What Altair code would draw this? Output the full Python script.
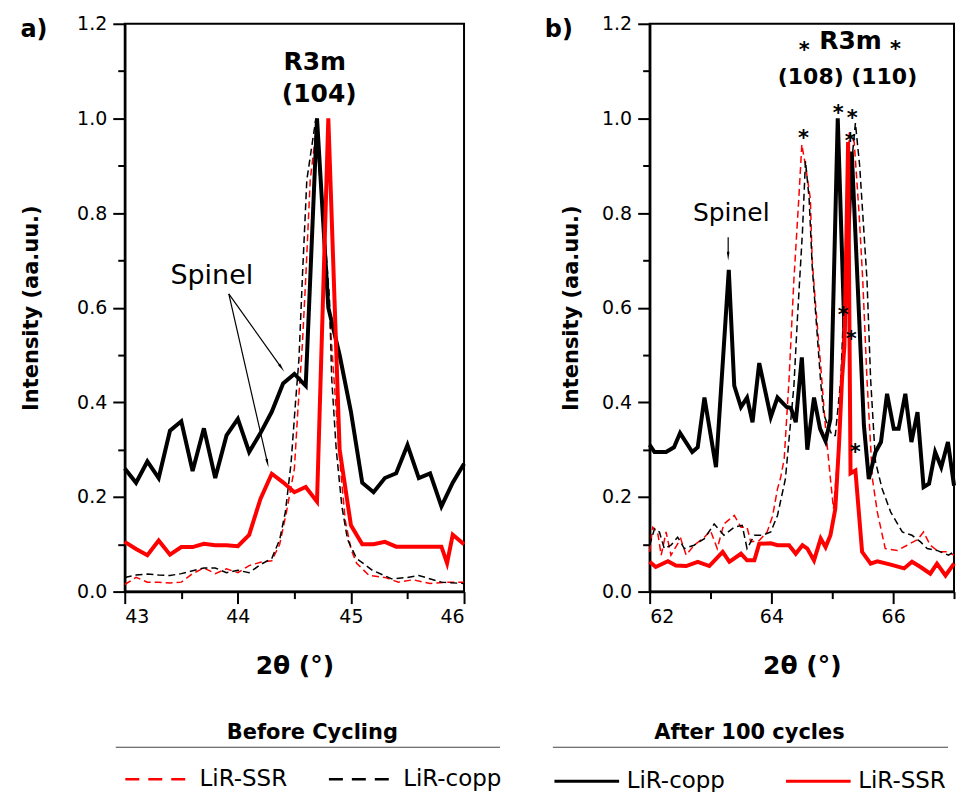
import altair as alt
import pandas as pd

FONT = "DejaVu Sans"
RED = "#ff0000"
BLACK = "#000000"

BEFORE_SERIES = ["LiR-SSR", "LiR-copp"]   # dashed: before cycling
AFTER_SERIES = ["LiR-copp", "LiR-SSR"]    # solid: after 100 cycles

# ---------------- panel a) : 2theta 43-46 ----------------
a_ssr_before_x = [43.0, 43.1, 43.2, 43.3, 43.4, 43.5, 43.6, 43.7, 43.8, 43.9,
                  44.0, 44.1, 44.2, 44.3, 44.37, 44.43, 44.5, 44.53, 44.57, 44.6,
                  44.64, 44.7, 44.73, 44.79, 44.85, 44.9, 44.95, 45.0, 45.05, 45.16,
                  45.3, 45.42, 45.55, 45.7, 45.85, 46.0]
a_ssr_before_y = [0.015, 0.03, 0.02, 0.02, 0.018, 0.02, 0.038, 0.05, 0.038, 0.048,
                  0.04, 0.055, 0.062, 0.065, 0.10, 0.168, 0.26, 0.38, 0.52, 0.66,
                  0.87, 0.99, 0.87, 0.66, 0.45, 0.28, 0.15, 0.09, 0.06, 0.034,
                  0.03, 0.02, 0.025, 0.017, 0.02, 0.02]

a_copp_before_x = [43.0, 43.1, 43.2, 43.3, 43.4, 43.5, 43.6, 43.7, 43.8, 43.9,
                   44.0, 44.1, 44.2, 44.3, 44.37, 44.42, 44.47, 44.51, 44.54, 44.57,
                   44.61, 44.69, 44.725, 44.77, 44.81, 44.83, 44.87, 44.92, 44.97, 45.05,
                   45.19, 45.36, 45.5, 45.6, 45.8, 46.0]
a_copp_before_y = [0.03, 0.035, 0.037, 0.035, 0.034, 0.038, 0.044, 0.05, 0.05, 0.04,
                   0.045, 0.04, 0.057, 0.07, 0.11, 0.168, 0.27, 0.40, 0.49, 0.66,
                   0.87, 1.0, 0.87, 0.75, 0.62, 0.45, 0.30, 0.18, 0.11, 0.07,
                   0.045, 0.027, 0.03, 0.034, 0.02, 0.017]

a_copp_after_x = [43.0, 43.1, 43.2, 43.3, 43.4, 43.5, 43.6, 43.7, 43.8, 43.9,
                  44.0, 44.1, 44.2, 44.3, 44.4, 44.5, 44.6, 44.7, 44.8, 44.9,
                  45.0, 45.1, 45.2, 45.3, 45.4, 45.5, 45.6, 45.7, 45.8, 45.9, 46.0]
a_copp_after_y = [0.26, 0.23, 0.275, 0.24, 0.34, 0.36, 0.255, 0.345, 0.24, 0.33,
                  0.365, 0.295, 0.335, 0.38, 0.44, 0.46, 0.435, 1.0, 0.60, 0.50,
                  0.38, 0.23, 0.21, 0.24, 0.25, 0.31, 0.24, 0.25, 0.18, 0.23, 0.27]

a_ssr_after_x = [43.0, 43.1, 43.2, 43.3, 43.4, 43.5, 43.6, 43.7, 43.8, 43.9,
                 44.0, 44.1, 44.2, 44.3, 44.4, 44.5, 44.6, 44.7, 44.8, 44.9,
                 45.0, 45.1, 45.2, 45.3, 45.4, 45.5, 45.6, 45.7, 45.8, 45.85, 45.9, 46.0]
a_ssr_after_y = [0.105, 0.09, 0.077, 0.108, 0.078, 0.094, 0.094, 0.101, 0.098, 0.098,
                 0.096, 0.12, 0.196, 0.249, 0.231, 0.21, 0.221, 0.19, 1.0, 0.30,
                 0.14, 0.10, 0.10, 0.105, 0.095, 0.095, 0.095, 0.095, 0.095, 0.06, 0.12, 0.10]

# ---------------- panel b) : 2theta 62-67 ----------------
b_ssr_before_x = [62.0, 62.05, 62.13, 62.19, 62.27, 62.35, 62.51, 62.6, 62.73, 62.9,
                  63.0, 63.11, 63.22, 63.39, 63.5, 63.6, 63.66, 63.8, 63.93, 64.02,
                  64.1, 64.15, 64.21, 64.29, 64.37, 64.45, 64.5, 64.56, 64.64, 64.67,
                  64.73, 64.81, 64.89, 64.97, 65.02, 65.1, 65.2, 65.28, 65.36, 65.44,
                  65.5, 65.57, 65.66, 65.74, 65.87, 66.07, 66.23, 66.4, 66.5, 66.61,
                  66.75, 66.89, 67.0]
b_ssr_before_y = [0.084, 0.136, 0.126, 0.077, 0.126, 0.077, 0.112, 0.077, 0.098, 0.115,
                  0.129, 0.091, 0.143, 0.161, 0.136, 0.136, 0.105, 0.108, 0.126, 0.16,
                  0.217, 0.24, 0.28, 0.449, 0.66, 0.83, 0.945, 0.90, 0.83, 0.70,
                  0.60, 0.477, 0.344, 0.238, 0.175, 0.30, 0.62, 0.97, 0.95, 0.80,
                  0.66, 0.449, 0.238, 0.168, 0.091, 0.087, 0.098, 0.11, 0.126, 0.098,
                  0.084, 0.084, 0.077]

b_copp_before_x = [62.0, 62.08, 62.16, 62.24, 62.35, 62.46, 62.57, 62.73, 62.9, 63.06,
                   63.22, 63.39, 63.52, 63.6, 63.72, 63.85, 63.99, 64.1, 64.23, 64.37,
                   64.43, 64.51, 64.56, 64.62, 64.67, 64.75, 64.81, 64.86, 64.93, 65.0,
                   65.05, 65.14, 65.22, 65.3, 65.38, 65.45, 65.5, 65.57, 65.63, 65.71,
                   65.82, 65.96, 66.15, 66.31, 66.45, 66.56, 66.72, 66.91, 67.0]
b_copp_before_y = [0.098, 0.133, 0.126, 0.091, 0.098, 0.115, 0.091, 0.098, 0.112, 0.143,
                   0.119, 0.136, 0.14, 0.091, 0.119, 0.119, 0.126, 0.161, 0.238, 0.435,
                   0.583, 0.76, 0.91, 0.83, 0.688, 0.548, 0.442, 0.375, 0.35, 0.33,
                   0.33, 0.449, 0.70, 0.88, 0.99, 0.90, 0.80, 0.66, 0.449, 0.274,
                   0.217, 0.168, 0.126, 0.119, 0.105, 0.091, 0.087, 0.077, 0.084]

b_copp_after_x = [62.0, 62.08, 62.27, 62.4, 62.5, 62.7, 62.79, 62.9, 63.09, 63.3,
                  63.39, 63.5, 63.6, 63.69, 63.8, 63.99, 64.1, 64.25, 64.32, 64.4,
                  64.5, 64.59, 64.7, 64.8, 64.89, 64.97, 65.09, 65.2, 65.32, 65.52,
                  65.6, 65.71, 65.8, 65.9, 66.01, 66.09, 66.2, 66.3, 66.4, 66.5,
                  66.59, 66.69, 66.79, 66.9, 67.0]
b_copp_after_y = [0.31, 0.295, 0.295, 0.305, 0.335, 0.295, 0.305, 0.41, 0.263, 0.68,
                  0.435, 0.39, 0.41, 0.358, 0.483, 0.369, 0.41, 0.39, 0.388, 0.358,
                  0.495, 0.30, 0.41, 0.344, 0.318, 0.365, 1.0, 0.55, 0.93, 0.351,
                  0.238, 0.295, 0.316, 0.418, 0.344, 0.344, 0.418, 0.316, 0.379, 0.221,
                  0.228, 0.295, 0.263, 0.316, 0.224]

b_ssr_after_x = [62.0, 62.1, 62.3, 62.43, 62.6, 62.79, 62.98, 63.2, 63.31, 63.5,
                 63.6, 63.72, 63.8, 63.99, 64.1, 64.29, 64.4, 64.51, 64.59, 64.7,
                 64.81, 64.89, 64.97, 65.05, 65.11, 65.16, 65.2, 65.26, 65.3, 65.38,
                 65.49, 65.63, 65.74, 65.96, 66.18, 66.31, 66.45, 66.61, 66.72, 66.86,
                 67.0]
b_ssr_after_y = [0.063, 0.052, 0.064, 0.055, 0.054, 0.063, 0.054, 0.084, 0.063, 0.08,
                 0.066, 0.066, 0.101, 0.102, 0.098, 0.098, 0.08, 0.098, 0.091, 0.066,
                 0.112, 0.094, 0.119, 0.175, 0.309, 0.449, 0.52, 0.95, 0.25, 0.256,
                 0.084, 0.059, 0.064, 0.057, 0.049, 0.063, 0.052, 0.038, 0.059, 0.034,
                 0.059]

# ---------------- annotations ----------------
a_note_text = ["R3m", "(104)"]
a_note_x = [44.68, 44.72]
a_note_y = [1.12, 1.051]
a_spinel_x, a_spinel_y = [43.77], [0.667]
a_arrow_x = [43.92, 43.92]
a_arrow_y = [0.629, 0.629]
a_arrow_x2 = [44.38, 44.26]
a_arrow_y2 = [0.475, 0.274]
a_arrow_angle = [145, 167]

b_note_text = ["R3m", "(108) (110)"]
b_note_x = [65.30, 65.25]
b_note_y = [1.164, 1.087]
b_spinel_x, b_spinel_y = [63.34], [0.80]
b_arrow_x, b_arrow_y, b_arrow_x2, b_arrow_y2 = [63.29], [0.749], [63.29], [0.712]
b_arrow_angle = [180]
b_star_x = [64.54, 66.04, 64.525, 65.098, 65.328, 65.295, 65.18, 65.31, 65.377]
b_star_y = [1.155, 1.158, 0.970, 1.021, 1.011, 0.962, 0.595, 0.545, 0.306]

Y_TICKS = [round(i * 0.1, 1) for i in range(13)]
A_X_TICKS = [43, 43.5, 44, 44.5, 45, 45.5, 46]
B_X_TICKS = [62, 63, 64, 65, 66, 67]


def series_df(pairs):
    frames = []
    for xs, ys, name in pairs:
        frames.append(pd.DataFrame({"x": xs, "y": ys, "series": name}))
    return pd.concat(frames, ignore_index=True)


color_before = alt.Color(
    "series:N",
    scale=alt.Scale(domain=BEFORE_SERIES, range=[RED, BLACK]),
    legend=alt.Legend(
        title="Before Cycling", orient="none", legendX=-1, legendY=700,
        direction="horizontal", symbolType="stroke", symbolSize=3700,
        symbolStrokeWidth=2.5, symbolDash=[14, 9], labelFontSize=23,
        titleFontSize=21, titleFontWeight="bold", titleAnchor="middle",
        titlePadding=4, labelOffset=12, columnPadding=36, labelLimit=300,
        titleLimit=500,
    ),
)
stroke_after = alt.Stroke(
    "series:N",
    scale=alt.Scale(domain=AFTER_SERIES, range=[BLACK, RED]),
    legend=alt.Legend(
        title="After 100 cycles", orient="none", legendX=429, legendY=700,
        direction="horizontal", symbolType="stroke", symbolSize=4200,
        symbolStrokeWidth=3, labelFontSize=23,
        titleFontSize=21, titleFontWeight="bold", titleAnchor="middle",
        titlePadding=4, labelOffset=6, columnPadding=54, labelLimit=300,
        titleLimit=500,
    ),
)


def make_panel(before, after, xdom, xticks, major_mod, notes, note_sizes, spinel, spinel_size,
               arrows, stars, tag, ytitle_pad, rule_x, rule_x2, width):
    major_x = f"datum.value % {major_mod} == 0"
    x_enc = alt.X(
        "x:Q",
        scale=alt.Scale(domain=xdom, nice=False, zero=False),
        axis=alt.Axis(
            values=xticks, title="2θ (°)", titleFontSize=25, titlePadding=27,
            labelExpr=f"{major_x} ? format(datum.value, 'd') : ''",
            tickSize={"condition": {"test": major_x, "value": 12}, "value": 7},
            labelPadding=4,
        ),
    )
    major_y = "round(datum.value * 10) % 2 == 0"
    y_enc = alt.Y(
        "y:Q",
        scale=alt.Scale(domain=[0, 1.2], nice=False),
        axis=alt.Axis(
            values=Y_TICKS, title="Intensity (aa.uu.)", titleFontSize=21,
            titlePadding=ytitle_pad,
            labelExpr=f"{major_y} ? format(datum.value, '.1f') : ''",
            tickSize={"condition": {"test": major_y, "value": 12}, "value": 7},
            labelPadding=6,
        ),
    )
    dashed = alt.Chart(before).mark_line(strokeDash=[7, 4], strokeWidth=1.5).encode(
        x=x_enc, y=y_enc, color=color_before
    )
    solid = alt.Chart(after).mark_line(strokeWidth=4, strokeJoin="miter").encode(
        x=x_enc, y=y_enc, stroke=stroke_after
    )
    layers = [dashed, solid]
    for (txt, nx, ny), fs in zip(notes, note_sizes):
        layers.append(
            alt.Chart(pd.DataFrame({"x": [nx], "y": [ny], "t": [txt]}))
            .mark_text(fontSize=fs, fontWeight="bold", color=BLACK, baseline="middle")
            .encode(x=x_enc, y=y_enc, text="t:N")
        )
    layers.append(
        alt.Chart(pd.DataFrame({"x": spinel[0], "y": spinel[1], "t": ["Spinel"]}))
        .mark_text(fontSize=spinel_size, color=BLACK, baseline="middle")
        .encode(x=x_enc, y=y_enc, text="t:N")
    )
    adf = pd.DataFrame({"x": arrows[0], "y": arrows[1], "x2": arrows[2], "y2": arrows[3],
                        "ang": arrows[4]})
    layers.append(
        alt.Chart(adf).mark_rule(color=BLACK, strokeWidth=1.2).encode(
            x=x_enc, y=y_enc, x2="x2:Q", y2="y2:Q")
    )
    layers.append(
        alt.Chart(adf).mark_point(shape="wedge", filled=True, color=BLACK, size=110, opacity=1)
        .encode(x=alt.X("x2:Q", scale=alt.Scale(domain=xdom, nice=False, zero=False)),
                y=alt.Y("y2:Q", scale=alt.Scale(domain=[0, 1.2], nice=False)),
                angle=alt.Angle("ang:Q", scale=None))
    )
    if stars is not None:
        layers.append(
            alt.Chart(pd.DataFrame({"x": stars[0], "y": stars[1], "t": ["*"] * len(stars[0])}))
            .mark_text(fontSize=21, fontWeight="bold", color=BLACK, baseline="middle", dy=6)
            .encode(x=x_enc, y=y_enc, text="t:N")
        )
    layers.append(
        alt.Chart(pd.DataFrame({"t": [tag]})).mark_text(
            fontSize=24, fontWeight="bold", color=BLACK, baseline="middle")
        .encode(x=alt.value(-91), y=alt.value(6), text="t:N")
    )
    layers.append(
        alt.Chart(pd.DataFrame({"t": [tag]})).mark_rule(color="#444444", strokeWidth=1.2)
        .encode(x=alt.value(rule_x), x2=alt.value(rule_x2), y=alt.value(725))
    )
    return alt.layer(*layers).properties(width=width, height=569)


before_a = series_df([(a_ssr_before_x, a_ssr_before_y, "LiR-SSR"),
                      (a_copp_before_x, a_copp_before_y, "LiR-copp")])
after_a = series_df([(a_copp_after_x, a_copp_after_y, "LiR-copp"),
                     (a_ssr_after_x, a_ssr_after_y, "LiR-SSR")])
before_b = series_df([(b_ssr_before_x, b_ssr_before_y, "LiR-SSR"),
                      (b_copp_before_x, b_copp_before_y, "LiR-copp")])
after_b = series_df([(b_copp_after_x, b_copp_after_y, "LiR-copp"),
                     (b_ssr_after_x, b_ssr_after_y, "LiR-SSR")])

panel_a = make_panel(
    before_a, after_a, [43, 46], A_X_TICKS, 1,
    list(zip(a_note_text, a_note_x, a_note_y)), [25, 25],
    (a_spinel_x, a_spinel_y), 27,
    (a_arrow_x, a_arrow_y, a_arrow_x2, a_arrow_y2, a_arrow_angle),
    None, "a)", 35, -9, 376, 340,
)
panel_b = make_panel(
    before_b, after_b, [62, 67], B_X_TICKS, 2,
    list(zip(b_note_text, b_note_x, b_note_y)), [25, 22],
    (b_spinel_x, b_spinel_y), 25,
    (b_arrow_x, b_arrow_y, b_arrow_x2, b_arrow_y2, b_arrow_angle),
    (b_star_x, b_star_y), "b)", 20, -97, 299, 305,
)

chart = (
    alt.hconcat(panel_a, panel_b, spacing=186, bounds="flush")
    .resolve_scale(x="independent", y="independent")
    .properties(padding={"left": 19, "top": 13, "right": 0, "bottom": 0}, background="white")
    .configure(font=FONT)
    .configure_view(stroke=BLACK, strokeWidth=2)
    .configure_axis(
        domainColor=BLACK, domainWidth=2.5, tickColor=BLACK, tickWidth=2,
        labelFont=FONT, labelFontSize=19, labelColor=BLACK,
        titleFont=FONT, titleColor=BLACK, titleFontWeight="bold", grid=False,
    )
    .configure_legend(labelFont=FONT, titleFont=FONT, labelColor=BLACK, titleColor=BLACK)
)

chart.save("out.html", embed_options={"renderer": "svg", "actions": False})
